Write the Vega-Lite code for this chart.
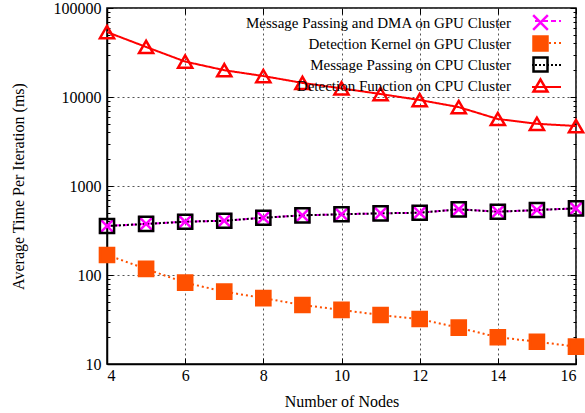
{
  "$schema": "https://vega.github.io/schema/vega-lite/v6.json",
  "width": 469,
  "height": 356,
  "autosize": {"type": "none"},
  "padding": {"left": 107, "top": 8, "right": 9, "bottom": 49},
  "background": "white",
  "config": {
    "font": "Liberation Serif",
    "view": {"stroke": "black", "strokeWidth": 1.5},
    "axis": {
      "labelFont": "Liberation Serif",
      "titleFont": "Liberation Serif",
      "labelFontSize": 16,
      "titleFontSize": 16,
      "titleFontWeight": "normal",
      "labelColor": "black",
      "titleColor": "black",
      "tickColor": "black",
      "domainColor": "black",
      "domainWidth": 1.5,
      "tickWidth": 1,
      "gridColor": "#555555",
      "gridDash": [2, 3],
      "gridWidth": 1
    },
    "legend": {
      "labelFont": "Liberation Serif",
      "labelFontSize": 15,
      "labelColor": "black",
      "gridAlign": "all"
    }
  },
  "data": {
    "values": [
      {"series": "Message Passing and DMA on GPU Cluster", "nodes": 4, "time": 355},
      {"series": "Message Passing and DMA on GPU Cluster", "nodes": 5, "time": 375},
      {"series": "Message Passing and DMA on GPU Cluster", "nodes": 6, "time": 397},
      {"series": "Message Passing and DMA on GPU Cluster", "nodes": 7, "time": 407},
      {"series": "Message Passing and DMA on GPU Cluster", "nodes": 8, "time": 440},
      {"series": "Message Passing and DMA on GPU Cluster", "nodes": 9, "time": 468},
      {"series": "Message Passing and DMA on GPU Cluster", "nodes": 10, "time": 481},
      {"series": "Message Passing and DMA on GPU Cluster", "nodes": 11, "time": 493},
      {"series": "Message Passing and DMA on GPU Cluster", "nodes": 12, "time": 501},
      {"series": "Message Passing and DMA on GPU Cluster", "nodes": 13, "time": 547},
      {"series": "Message Passing and DMA on GPU Cluster", "nodes": 14, "time": 514},
      {"series": "Message Passing and DMA on GPU Cluster", "nodes": 15, "time": 537},
      {"series": "Message Passing and DMA on GPU Cluster", "nodes": 16, "time": 561},
      {"series": "Detection Kernel on GPU Cluster", "nodes": 4, "time": 168},
      {"series": "Detection Kernel on GPU Cluster", "nodes": 5, "time": 117},
      {"series": "Detection Kernel on GPU Cluster", "nodes": 6, "time": 82},
      {"series": "Detection Kernel on GPU Cluster", "nodes": 7, "time": 65},
      {"series": "Detection Kernel on GPU Cluster", "nodes": 8, "time": 55},
      {"series": "Detection Kernel on GPU Cluster", "nodes": 9, "time": 46},
      {"series": "Detection Kernel on GPU Cluster", "nodes": 10, "time": 40.5},
      {"series": "Detection Kernel on GPU Cluster", "nodes": 11, "time": 35.5},
      {"series": "Detection Kernel on GPU Cluster", "nodes": 12, "time": 32},
      {"series": "Detection Kernel on GPU Cluster", "nodes": 13, "time": 25.6},
      {"series": "Detection Kernel on GPU Cluster", "nodes": 14, "time": 20},
      {"series": "Detection Kernel on GPU Cluster", "nodes": 15, "time": 17.8},
      {"series": "Detection Kernel on GPU Cluster", "nodes": 16, "time": 15.7},
      {"series": "Message Passing on CPU Cluster", "nodes": 4, "time": 355},
      {"series": "Message Passing on CPU Cluster", "nodes": 5, "time": 375},
      {"series": "Message Passing on CPU Cluster", "nodes": 6, "time": 397},
      {"series": "Message Passing on CPU Cluster", "nodes": 7, "time": 407},
      {"series": "Message Passing on CPU Cluster", "nodes": 8, "time": 440},
      {"series": "Message Passing on CPU Cluster", "nodes": 9, "time": 468},
      {"series": "Message Passing on CPU Cluster", "nodes": 10, "time": 481},
      {"series": "Message Passing on CPU Cluster", "nodes": 11, "time": 493},
      {"series": "Message Passing on CPU Cluster", "nodes": 12, "time": 501},
      {"series": "Message Passing on CPU Cluster", "nodes": 13, "time": 547},
      {"series": "Message Passing on CPU Cluster", "nodes": 14, "time": 514},
      {"series": "Message Passing on CPU Cluster", "nodes": 15, "time": 537},
      {"series": "Message Passing on CPU Cluster", "nodes": 16, "time": 561},
      {"series": "Detection Function on CPU Cluster", "nodes": 4, "time": 53700},
      {"series": "Detection Function on CPU Cluster", "nodes": 5, "time": 36500},
      {"series": "Detection Function on CPU Cluster", "nodes": 6, "time": 25000},
      {"series": "Detection Function on CPU Cluster", "nodes": 7, "time": 20000},
      {"series": "Detection Function on CPU Cluster", "nodes": 8, "time": 17200},
      {"series": "Detection Function on CPU Cluster", "nodes": 9, "time": 14400},
      {"series": "Detection Function on CPU Cluster", "nodes": 10, "time": 12500},
      {"series": "Detection Function on CPU Cluster", "nodes": 11, "time": 10800},
      {"series": "Detection Function on CPU Cluster", "nodes": 12, "time": 9250},
      {"series": "Detection Function on CPU Cluster", "nodes": 13, "time": 7700},
      {"series": "Detection Function on CPU Cluster", "nodes": 14, "time": 5660},
      {"series": "Detection Function on CPU Cluster", "nodes": 15, "time": 5000},
      {"series": "Detection Function on CPU Cluster", "nodes": 16, "time": 4720}
    ]
  },
  "layer": [
    {
      "mark": {"type": "line", "strokeWidth": 2},
      "encoding": {
        "x": {
          "field": "nodes", "type": "quantitative",
          "scale": {"domain": [4, 16], "nice": false},
          "axis": {
            "orient": "bottom",
            "values": [4, 6, 8, 10, 12, 14, 16],
            "title": "Number of Nodes",
            "grid": true,
            "tickSize": -6,
            "labelPadding": 9,
            "titlePadding": 10
          }
        },
        "y": {
          "field": "time", "type": "quantitative",
          "scale": {"type": "log", "domain": [10, 100000], "nice": false},
          "axis": {
            "orient": "left",
            "values": [10, 20, 30, 40, 50, 60, 70, 80, 90, 100, 200, 300, 400, 500, 600, 700, 800, 900, 1000, 2000, 3000, 4000, 5000, 6000, 7000, 8000, 9000, 10000, 20000, 30000, 40000, 50000, 60000, 70000, 80000, 90000, 100000],
            "format": "d",
            "labelExpr": "indexof([10,100,1000,10000,100000], datum.value) >= 0 ? datum.label : ''",
            "tickSize": {"condition": {"test": "indexof([10,100,1000,10000,100000], datum.value) >= 0", "value": -6}, "value": -3},
            "grid": true,
            "gridOpacity": {"condition": {"test": "indexof([10,100,1000,10000,100000], datum.value) >= 0", "value": 1}, "value": 0},
            "labelPadding": 12,
            "title": "Average Time Per Iteration (ms)",
            "titlePadding": 27
          }
        },
        "color": {
          "field": "series", "type": "nominal",
          "scale": {
            "domain": ["Detection Function on CPU Cluster", "Message Passing on CPU Cluster", "Detection Kernel on GPU Cluster", "Message Passing and DMA on GPU Cluster"],
            "range": ["#ff0000", "#000000", "#ff5000", "#ff00ff"]
          },
          "legend": {
            "title": null, "orient": "none", "legendX": 425, "legendY": 2.4,
            "values": ["Message Passing and DMA on GPU Cluster", "Detection Kernel on GPU Cluster", "Message Passing on CPU Cluster", "Detection Function on CPU Cluster"],
            "symbolType": "M-3,0L3,0", "symbolSize": 196, "symbolStrokeWidth": 2,
            "labelOpacity": 0, "labelLimit": 12, "padding": 0, "rowPadding": 0,
            "clipHeight": 21.3
          }
        },
        "strokeDash": {
          "field": "series", "type": "nominal",
          "scale": {
            "domain": ["Detection Function on CPU Cluster", "Message Passing on CPU Cluster", "Detection Kernel on GPU Cluster", "Message Passing and DMA on GPU Cluster"],
            "range": [[1, 0], [2, 2], [2, 3], [5, 3]]
          },
          "legend": {
            "title": null, "orient": "none", "legendX": 425, "legendY": 2.4,
            "values": ["Message Passing and DMA on GPU Cluster", "Detection Kernel on GPU Cluster", "Message Passing on CPU Cluster", "Detection Function on CPU Cluster"],
            "symbolType": "M-3,0L3,0", "symbolSize": 196, "symbolStrokeWidth": 2,
            "labelOpacity": 0, "labelLimit": 12, "padding": 0, "rowPadding": 0,
            "clipHeight": 21.3
          }
        }
      }
    },
    {
      "mark": {"type": "point", "strokeWidth": 2.5, "opacity": 1, "size": 200},
      "encoding": {
        "x": {
          "field": "nodes", "type": "quantitative",
          "scale": {"domain": [4, 16], "nice": false},
          "axis": {
            "orient": "top", "values": [4, 6, 8, 10, 12, 14, 16],
            "labels": false, "title": null, "grid": false, "domain": false, "tickSize": -6
          }
        },
        "y": {
          "field": "time", "type": "quantitative",
          "scale": {"type": "log", "domain": [10, 100000], "nice": false},
          "axis": {
            "orient": "right",
            "values": [10, 20, 30, 40, 50, 60, 70, 80, 90, 100, 200, 300, 400, 500, 600, 700, 800, 900, 1000, 2000, 3000, 4000, 5000, 6000, 7000, 8000, 9000, 10000, 20000, 30000, 40000, 50000, 60000, 70000, 80000, 90000, 100000],
            "labels": false, "title": null, "grid": false, "domain": false,
            "tickSize": {"condition": {"test": "indexof([10,100,1000,10000,100000], datum.value) >= 0", "value": -6}, "value": -3}
          }
        },
        "shape": {
          "field": "series", "type": "nominal",
          "scale": {
            "domain": ["Message Passing and DMA on GPU Cluster", "Detection Kernel on GPU Cluster", "Message Passing on CPU Cluster", "Detection Function on CPU Cluster"],
            "range": ["M-1.05,-1.05L1.05,1.05M-1.05,1.05L1.05,-1.05", "square", "square", "triangle-up"]
          },
          "legend": {
            "title": null, "orient": "none", "legendX": 425, "legendY": 6,
            "symbolSize": 196, "symbolStrokeWidth": 2.5, "rowPadding": -11, "padding": 0,
            "labelAlign": "right", "labelOffset": -38, "labelLimit": 400
          }
        },
        "stroke": {
          "field": "series", "type": "nominal",
          "scale": {
            "domain": ["Message Passing and DMA on GPU Cluster", "Detection Kernel on GPU Cluster", "Message Passing on CPU Cluster", "Detection Function on CPU Cluster"],
            "range": ["#ff00ff", "#ff5000", "#000000", "#ff0000"]
          },
          "legend": {
            "title": null, "orient": "none", "legendX": 425, "legendY": 6,
            "symbolSize": 196, "symbolStrokeWidth": 2.5, "rowPadding": -11, "padding": 0,
            "labelAlign": "right", "labelOffset": -38, "labelLimit": 400
          }
        },
        "fill": {
          "field": "series", "type": "nominal",
          "scale": {
            "domain": ["Message Passing and DMA on GPU Cluster", "Detection Kernel on GPU Cluster", "Message Passing on CPU Cluster", "Detection Function on CPU Cluster"],
            "range": ["transparent", "#ff5000", "transparent", "transparent"]
          },
          "legend": {
            "title": null, "orient": "none", "legendX": 425, "legendY": 6,
            "symbolSize": 196, "symbolStrokeWidth": 2.5, "rowPadding": -11, "padding": 0,
            "labelAlign": "right", "labelOffset": -38, "labelLimit": 400
          }
        }
      }
    }
  ],
  "resolve": {"axis": {"x": "independent", "y": "independent"}}
}
